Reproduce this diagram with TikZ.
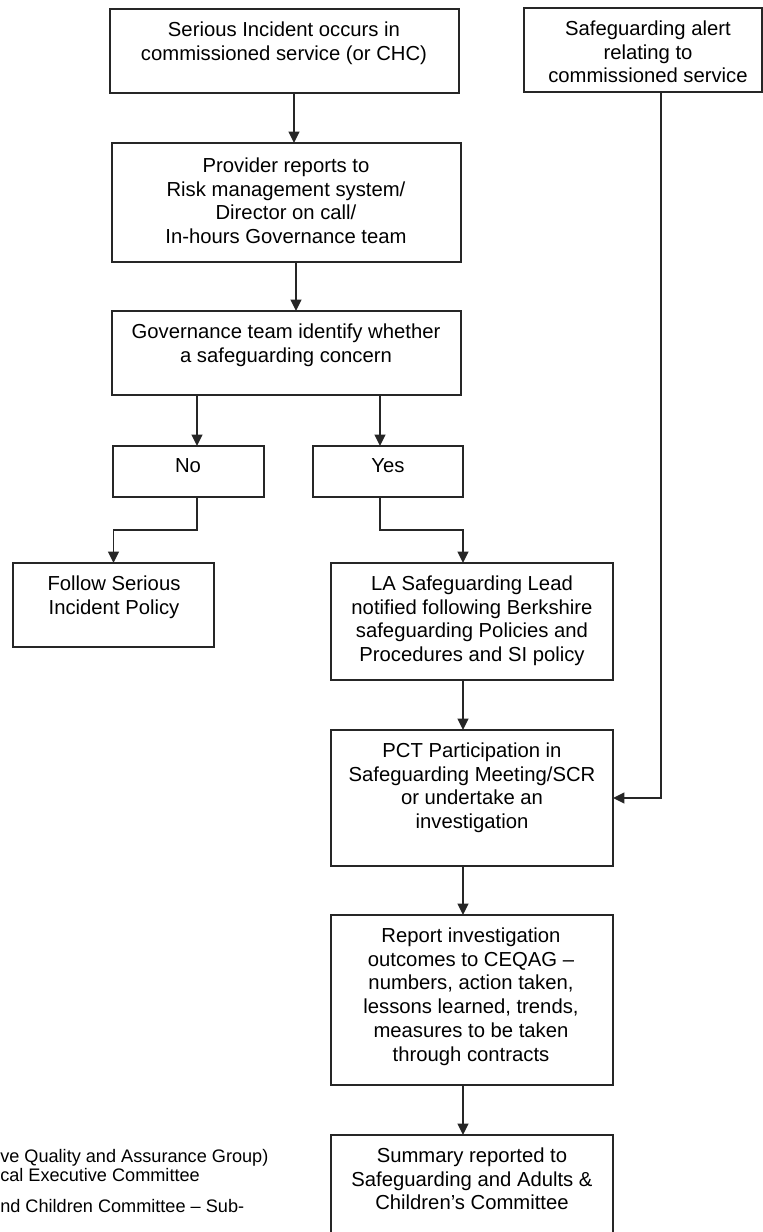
\documentclass[tikz,border=0pt]{standalone}
\usepackage{fontspec}
\setmainfont{Liberation Sans}
\usetikzlibrary{arrows.meta}
\begin{document}
\begin{tikzpicture}[x=0.75pt,y=-0.75pt,
  box/.style={draw=black!85, line width=1.4pt, inner sep=0pt, outer sep=0pt},
  txt/.style={font=\fontsize{15.2pt}{17.8pt}\selectfont, align=center, inner sep=0pt, anchor=north},
  arr/.style={draw=black!85, line width=1.3pt, -{Triangle[width=8pt,length=8.5pt]}},
  note/.style={font=\fontsize{13.6pt}{16pt}\selectfont, anchor=base west, inner sep=0pt}]
\path[use as bounding box, clip] (0,0) rectangle (763,1232);
\fill[white] (0,0) rectangle (763,1232);

% boxes
\node[box, minimum width=261.75pt, minimum height=63pt]    (b1)     at (284.5,51)   {};
\node[box, minimum width=178.5pt,  minimum height=63pt]    (alert)  at (643,50)     {};
\node[box, minimum width=261.75pt, minimum height=89.25pt] (b2)     at (286.5,202.5) {};
\node[box, minimum width=261.75pt, minimum height=63pt]    (b3)     at (286.5,353)  {};
\node[box, minimum width=113.25pt, minimum height=38.25pt] (no)     at (188.5,471.5) {};
\node[box, minimum width=112.5pt,  minimum height=38.25pt] (yes)    at (388,471.5)  {};
\node[box, minimum width=150.75pt, minimum height=63pt]    (follow) at (113.5,605)  {};
\node[box, minimum width=211.5pt,  minimum height=87.75pt] (la)     at (472,621.5)  {};
\node[box, minimum width=211.5pt,  minimum height=102pt]   (pct)    at (472,798)    {};
\node[box, minimum width=211.5pt,  minimum height=127.5pt] (rep)    at (472,1000)   {};
\node[box, minimum width=211.5pt,  minimum height=93.75pt] (sum)    at (472,1197.5) {};

% texts
\node[txt] (t1) at (284,21.5) {Serious Incident occurs in\\commissioned service (or CHC)};
\node[txt] (ta) at (648,20.5) {Safeguarding alert\\relating to\\commissioned service};
\node[txt] (t2) at (286,157.5) {Provider reports to\\Risk management system/\\Director on call/\\In-hours Governance team};
\node[txt] (t3) at (286,323.5) {Governance team identify whether\\a safeguarding concern};
\node[txt] (tn) at (188,458.5) {No};
\node[txt] (ty) at (388,458.5) {Yes};
\node[txt] (tf) at (114,575.5) {Follow Serious\\Incident Policy};
\node[txt] (tl) at (472,575.5) {LA Safeguarding Lead\\notified following Berkshire\\safeguarding Policies and\\Procedures and SI policy};
\node[txt] (tp) at (472,742.5) {PCT Participation in\\Safeguarding Meeting/SCR\\or undertake an\\investigation};
\node[txt] (tr) at (471,927.5) {Report investigation\\outcomes to CEQAG --\\numbers, action taken,\\lessons learned, trends,\\measures to be taken\\through contracts};
\node[txt] (ts) at (472,1147.5) {Summary reported to\\Safeguarding and Adults \&\\Children’s Committee};

% notes at bottom left (cut off by page edge)
\node[note] (n1) at (0,1162) {ve Quality and Assurance Group)};
\node[note] (n2) at (0,1181) {cal Executive Committee};
\node[note] (n3) at (0,1212) {nd Children Committee -- Sub-};

% connector columns
\coordinate (c1) at (294,0);
\coordinate (c2) at (296,0);
\coordinate (cn) at (197,0);
\coordinate (cy) at (380,0);
\coordinate (cl) at (463,0);
\coordinate (ca) at (661,0);

\draw[arr] (b1.south -| c1) -- (b2.north -| c1);
\draw[arr] (b2.south -| c2) -- (b3.north -| c2);
\draw[arr] (b3.south -| cn) -- (no.north -| cn);
\draw[arr] (b3.south -| cy) -- (yes.north -| cy);
\draw[arr] (no.south -| cn) -- ++(0,33) -| (follow.north);
\draw[arr] (yes.south -| cy) -- ++(0,33) -| (la.north -| cl);
\draw[arr] (la.south -| cl) -- (pct.north -| cl);
\draw[arr] (pct.south -| cl) -- (rep.north -| cl);
\draw[arr] (rep.south -| cl) -- (sum.north -| cl);
\draw[arr] (alert.south -| ca) |- (pct.east);
\end{tikzpicture}
\end{document}
